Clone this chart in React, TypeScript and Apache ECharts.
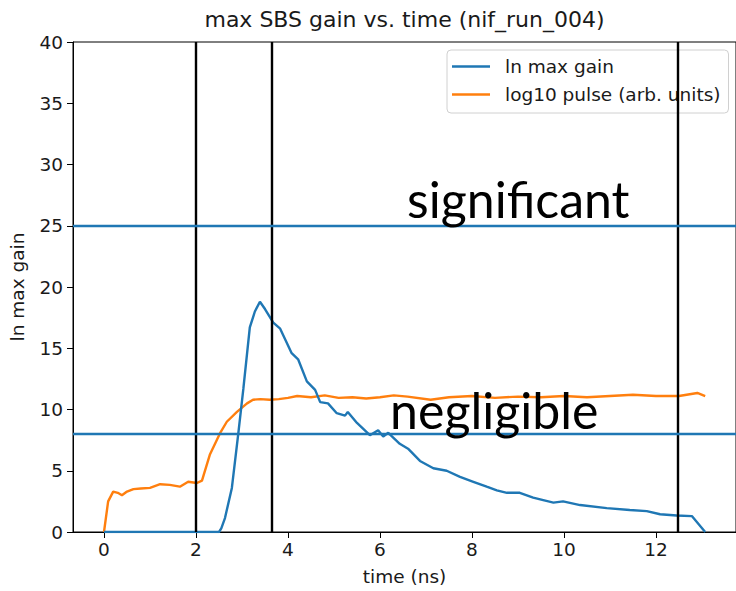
import React, { useEffect, useRef } from "react";
import * as echarts from "echarts";

const gainTime = [0, 2.5, 2.55, 2.63, 2.78, 2.92, 3.03, 3.17, 3.28, 3.39, 3.5, 3.68, 3.83, 4.08, 4.22, 4.41, 4.59, 4.7, 4.87, 5.06, 5.24, 5.3, 5.5, 5.78, 5.96, 6.07, 6.18, 6.43, 6.61, 6.87, 7.16, 7.45, 7.74, 8.03, 8.32, 8.54, 8.76, 9.04, 9.33, 9.77, 9.98, 10.35, 10.93, 11.43, 11.8, 12.09, 12.45, 12.78, 13.07];
const gainValues = [0, 0, 0.3, 1.14, 3.6, 8.05, 11.7, 16.7, 18.0, 18.8, 18.2, 17.1, 16.6, 14.6, 14.1, 12.3, 11.6, 10.6, 10.5, 9.7, 9.5, 9.8, 8.9, 7.9, 8.3, 7.8, 8.1, 7.2, 6.8, 5.8, 5.2, 5.0, 4.5, 4.1, 3.7, 3.4, 3.2, 3.2, 2.8, 2.4, 2.5, 2.2, 1.95, 1.8, 1.7, 1.45, 1.35, 1.3, 0];

const pulseTime = [0, 0.09, 0.2, 0.3, 0.39, 0.5, 0.64, 0.8, 1.0, 1.22, 1.43, 1.65, 1.83, 2.02, 2.13, 2.3, 2.52, 2.67, 2.89, 3.11, 3.24, 3.4, 3.6, 3.8, 4.0, 4.2, 4.5, 4.8, 5.1, 5.4, 5.7, 6.0, 6.3, 6.6, 7.1, 7.5, 8.0, 8.5, 9.0, 9.5, 10.0, 10.5, 11.0, 11.5, 12.0, 12.5, 12.9, 13.07];
const pulseValues = [0, 2.5, 3.3, 3.2, 3.0, 3.3, 3.5, 3.55, 3.6, 3.9, 3.85, 3.7, 4.1, 4.0, 4.2, 6.3, 8.05, 9.0, 9.8, 10.5, 10.8, 10.85, 10.8, 10.85, 10.95, 11.1, 11.0, 11.15, 10.95, 11.0, 10.9, 11.0, 11.15, 11.05, 10.8, 11.0, 11.1, 10.95, 11.05, 11.0, 11.1, 11.0, 11.1, 11.2, 11.1, 11.1, 11.35, 11.1];

const verticalLines = [2, 3.65, 12.47];
const horizontalLines = [25, 8.05];

const xTicks = [0, 2, 4, 6, 8, 10, 12];
const xMin = -0.674;
const xMax = 13.74;

const annotations = [
  { text: "significant", at: [6.59, 27.2] },
  { text: "negligible", at: [6.22, 10.0] },
];

const seriesNames = ["ln max gain", "log10 pulse (arb. units)"];
const titleText = "max SBS gain vs. time (nif_run_004)";

const BLUE = "#1f77b4";
const ORANGE = "#ff7f0e";
const FONT = "DejaVu Sans";
const FS = 18.5;
const TXT = "#1a1a1a";

export default function App() {
  const ref = useRef<HTMLDivElement>(null);
  useEffect(() => {
    if (!ref.current) return;
    const chart = echarts.init(ref.current, undefined, { renderer: "svg" });
    chart.setOption({
      animation: false,
      backgroundColor: "#fff",
      grid: { left: 73, top: 42, right: 0, bottom: 57, show: true, borderColor: "#000", borderWidth: 1, backgroundColor: "transparent" },
      legend: {
        orient: "vertical",
        left: 447,
        top: 50,
        padding: [7, 8, 9, 5],
        itemWidth: 38,
        itemHeight: 2.5,
        itemGap: 9,
        icon: "rect",
        backgroundColor: "rgba(255,255,255,0.8)",
        borderColor: "#d0d0d0",
        borderWidth: 1,
        borderRadius: 4,
        textStyle: { fontFamily: FONT, fontSize: FS, color: TXT, padding: [0, 0, 0, 10], lineHeight: FS },
        data: seriesNames,
      },
      xAxis: {
        type: "value",
        min: xMin,
        max: xMax,
        name: "time (ns)",
        nameLocation: "middle",
        nameGap: 35,
        nameTextStyle: { fontFamily: FONT, fontSize: FS, color: TXT },
        axisLine: { show: true, onZero: false, lineStyle: { color: "#000", width: 1 } },
        axisTick: { show: true, inside: false, length: 6, lineStyle: { color: "#000" }, customValues: xTicks },
        axisLabel: { fontFamily: FONT, fontSize: FS, color: TXT, margin: 8, customValues: xTicks },
        splitLine: { show: false },
      },
      yAxis: {
        type: "value",
        min: 0,
        max: 40,
        interval: 5,
        name: "ln max gain",
        nameLocation: "middle",
        nameGap: 46,
        nameTextStyle: { fontFamily: FONT, fontSize: FS, color: TXT },
        axisLine: { show: true, onZero: false, lineStyle: { color: "#000", width: 1 } },
        axisTick: { show: true, inside: false, length: 6, lineStyle: { color: "#000" } },
        axisLabel: { fontFamily: FONT, fontSize: FS, color: TXT, margin: 10 },
        splitLine: { show: false },
      },
      series: [
        {
          name: seriesNames[0],
          type: "line",
          data: gainTime.map((t, i) => [t, gainValues[i]]),
          showSymbol: false,
          symbol: "none",
          lineStyle: { color: BLUE, width: 2.4 },
          itemStyle: { color: BLUE },
          z: 3,
          markLine: {
            silent: true,
            symbol: "none",
            label: { show: false },
            lineStyle: { color: "#000", width: 2.4, type: "solid" },
            data: [
              ...verticalLines.map((x) => ({ xAxis: x })),
              ...horizontalLines.map((y) => ({ yAxis: y, lineStyle: { color: BLUE, width: 2.4, type: "solid" } })),
            ],
          },
        },
        {
          name: seriesNames[1],
          type: "line",
          data: pulseTime.map((t, i) => [t, pulseValues[i]]),
          showSymbol: false,
          symbol: "none",
          lineStyle: { color: ORANGE, width: 2.4 },
          itemStyle: { color: ORANGE },
          z: 2,
        },
      ],
    });
    const gTitle = {
      type: "text",
      x: 404.5,
      y: 19,
      style: { text: titleText, fontFamily: FONT, fontSize: 22, fill: TXT, align: "center", verticalAlign: "middle" },
    };
    const gAnn = annotations.map((a) => {
      const p = chart.convertToPixel({ gridIndex: 0 }, a.at) as number[];
      return {
        type: "text",
        x: p[0],
        y: p[1],
        z: 10,
        style: { text: a.text, fontFamily: "Lato", fontSize: 50, fill: "#000", align: "left", verticalAlign: "middle" },
      };
    });
    chart.setOption({ graphic: [gTitle, ...gAnn] });
    return () => chart.dispose();
  }, []);
  return <div ref={ref} style={{ position: "fixed", left: 0, top: 0, width: 736, height: 591 }} />;
}
